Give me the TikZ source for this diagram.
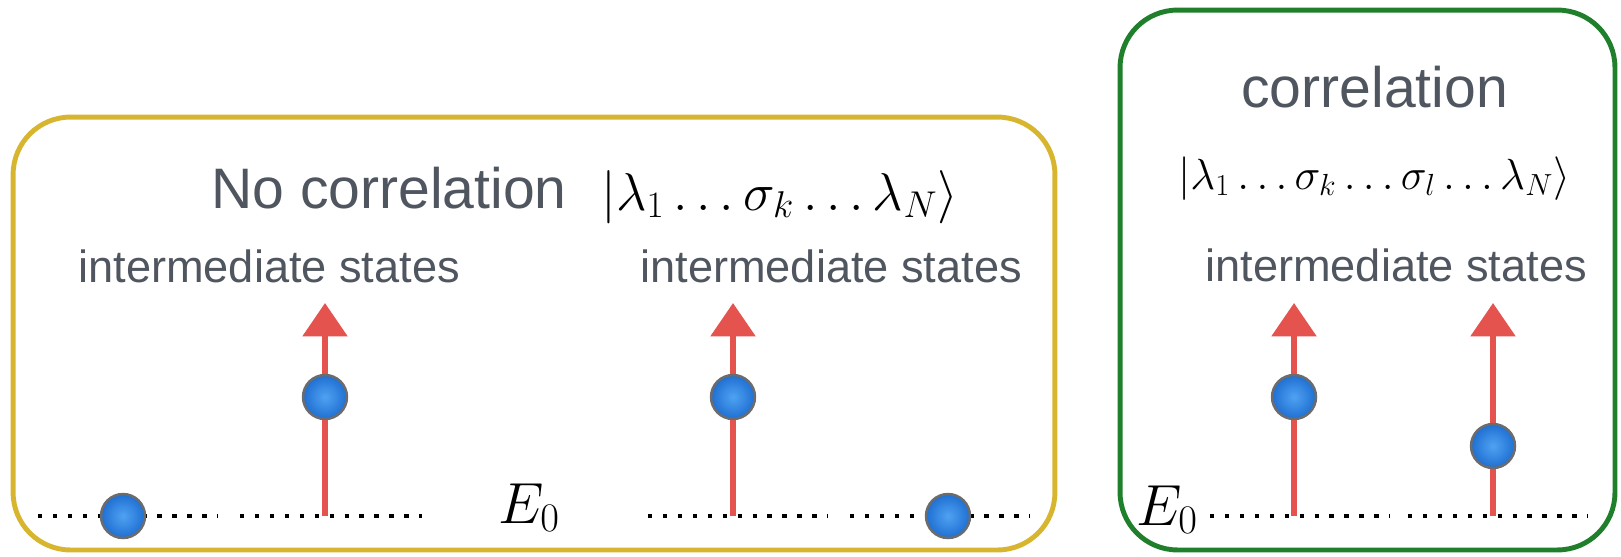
\documentclass[tikz,border=0pt]{standalone}
\usepackage{fix-cm}
\usepackage{fontspec}
\newfontfamily\helv{Liberation Sans}
\usetikzlibrary{arrows.meta}

\definecolor{panelyellow}{HTML}{D8B52F}
\definecolor{panelgreen}{HTML}{1F7F2B}
\definecolor{exred}{HTML}{E5534F}
\definecolor{ballblue}{HTML}{1F6FD2}
\definecolor{balllight}{HTML}{4FA2F2}
\definecolor{slate}{HTML}{50565F}

\begin{document}
\begin{tikzpicture}[
    x=0.02cm, y=-0.02cm,
    panel/.style={rectangle, line width=2.8pt, rounded corners=1.15cm, inner sep=0pt},
    electron/.style={circle, draw=gray!85!black, line width=1.4pt, inner color=balllight, outer color=ballblue, minimum size=0.88cm, inner sep=0pt},
    excite/.style={draw=exred, line width=3.4pt, -{Triangle[length=19pt, width=25pt]}},
    ground/.style={draw=black, line width=2.4pt, dash pattern=on 2.5pt off 6pt},
    note/.style={font=\helv\fontsize{25.7}{30}\selectfont, text=slate, inner sep=0pt, anchor=base west},
    title/.style={font=\helv\fontsize{32.5}{38}\selectfont, text=slate, inner sep=0pt, anchor=base west},
    ket/.style={font=\fontsize{#1}{40}\selectfont, inner sep=0pt, anchor=base west}
]
\useasboundingbox (0,0) rectangle (1621,556);

% the two panels
\node [panel, draw=panelyellow, minimum width=20.84cm, minimum height=8.66cm] (nocorr) at (534,333.5) {};
\node [panel, draw=panelgreen, minimum width=9.9cm, minimum height=10.8cm] (corr) at (1367.5,280) {};

% texts
\node [title] (nocorrtext) at (211,208) {No correlation};
\node [ket=30.3] (ketone) at (601,210) {$|\lambda_1\ldots\sigma_k\ldots\lambda_N\rangle$};
\node [title] (corrtext) at (1241,107) {correlation};
\node [ket=24.8] (kettwo) at (1178,189) {$|\lambda_1\ldots\sigma_k\ldots\sigma_l\ldots\lambda_N\rangle$};
\node [note] (interA) at (78,282) {intermediate states};
\node [note] (interB) at (640,282) {intermediate states};
\node [note] (interC) at (1205,281) {intermediate states};
\node [ket=33] (egroundA) at (498,523) {$E_0$};
\node [ket=33] (egroundB) at (1136,525) {$E_0$};

% ground levels
\coordinate (g1a) at (38,516);   \coordinate (g1b) at (218,516);
\coordinate (g2a) at (240,516);  \coordinate (g2b) at (422,516);
\coordinate (g3a) at (648,516);  \coordinate (g3b) at (828,516);
\coordinate (g4a) at (850,516);  \coordinate (g4b) at (1030,516);
\coordinate (g5a) at (1210,516); \coordinate (g5b) at (1390,516);
\coordinate (g6a) at (1408,516); \coordinate (g6b) at (1588,516);
\foreach \i in {1,...,6}
  \path [ground] (g\i a) -- (g\i b);

% excitations
\coordinate (baseA) at (325,516); \coordinate (tipA) at (325,303);
\coordinate (baseB) at (733,516); \coordinate (tipB) at (733,303);
\coordinate (baseC) at (1294,516); \coordinate (tipC) at (1294,303);
\coordinate (baseD) at (1493,516); \coordinate (tipD) at (1493,303);
\foreach \k in {A,B,C,D}
  \path [excite] (base\k) -- (tip\k);

% electrons
\node [electron] (eA) at (123,516) {};
\node [electron] (eB) at (325,397) {};
\node [electron] (eC) at (733,397) {};
\node [electron] (eD) at (948,516) {};
\node [electron] (eE) at (1294,397) {};
\node [electron] (eF) at (1493,446) {};
\end{tikzpicture}
\end{document}
